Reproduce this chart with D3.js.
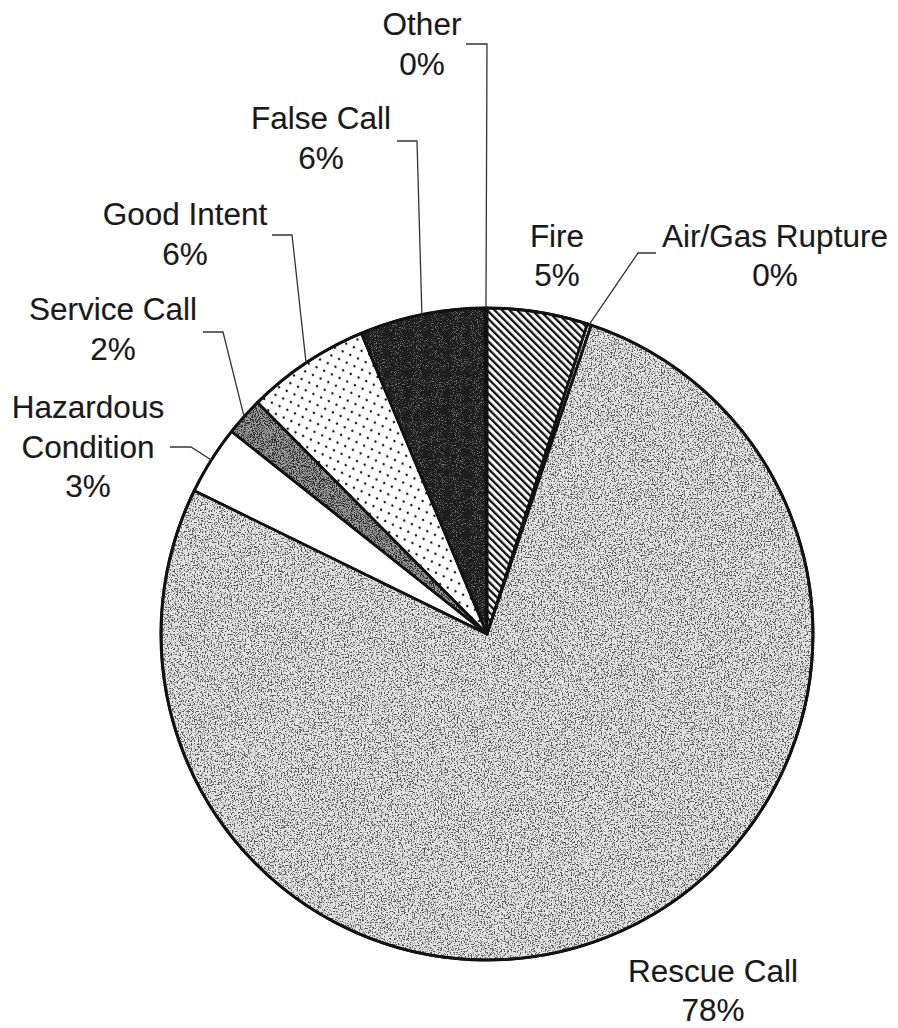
<!DOCTYPE html>
<html>
<head>
<meta charset="utf-8">
<script src="https://cdn.jsdelivr.net/npm/d3@7/dist/d3.min.js"></script>
<style>
  html, body { margin: 0; padding: 0; background: #fff; }
  svg { display: block; }
  text { font-family: "Liberation Sans", Arial, sans-serif; fill: #1a1a1a; stroke: #1a1a1a; stroke-width: 0.15; }
</style>
</head>
<body>
<svg id="chart" width="898" height="1028"></svg>
<script>
// ---- data ----
const categories = ["Fire", "Air/Gas Rupture", "Rescue Call", "Hazardous Condition",
                    "Service Call", "Good Intent", "False Call", "Other"];
const values = [4.98, 0.2, 77.07, 3.42, 1.9, 6.13, 6.2, 0.1];
const percentLabels = ["5%", "0%", "78%", "3%", "2%", "6%", "6%", "0%"];

// ---- layout (positions / styles) ----
const W = 898, H = 1028;
const cx = 487, cy = 634, R = 326;
const fontSize = 31.5;

const labelLayout = {
  "Fire":                {x: 557, y: [247, 286], leader: null},
  "Air/Gas Rupture":     {x: 775, y: [247, 286], leader: [[638, 253], [656, 253]]},
  "Rescue Call":         {x: 713, y: [982, 1021], leader: null},
  "Hazardous Condition": {x: 88,  y: [418, 458, 497], lines: ["Hazardous", "Condition"], leader: [[191, 447], [170, 447]]},
  "Service Call":        {x: 113, y: [320, 360], leader: [[223, 332], [203, 332]]},
  "Good Intent":         {x: 185, y: [225, 265], leader: [[292, 235], [272, 235]]},
  "False Call":          {x: 321, y: [129, 169], leader: [[417, 141], [397, 141]]},
  "Other":               {x: 422, y: [35, 75],   leader: [[487, 44], [466, 44]]}
};

const sliceStyle = {
  "Fire":                {fill: "url(#hatch)", noise: null},
  "Air/Gas Rupture":     {fill: "#e2e2e2", noise: {filter: "speckLight", opacity: 0.6}},
  "Rescue Call":         {fill: "#e2e2e2", noise: {filter: "speckLight", opacity: 0.6}},
  "Hazardous Condition": {fill: "#ffffff", noise: null},
  "Service Call":        {fill: "#9a9a9a", noise: {filter: "speckBlack", opacity: 0.7}},
  "Good Intent":         {fill: "url(#dots)", noise: null},
  "False Call":          {fill: "#1e1e1e", noise: {filter: "speckWhite", opacity: 0.35}},
  "Other":               {fill: "#ffffff", noise: null}
};

const svg = d3.select("#chart");
const defs = svg.append("defs");

// hatch pattern (Fire)
const hatch = defs.append("pattern")
  .attr("id", "hatch").attr("patternUnits", "userSpaceOnUse")
  .attr("width", 5.3).attr("height", 10)
  .attr("patternTransform", "rotate(-45)");
hatch.append("rect").attr("width", 5.3).attr("height", 10).attr("fill", "#fff");
hatch.append("rect").attr("width", 2.3).attr("height", 10).attr("fill", "#111");

// dots pattern (Good Intent)
const dots = defs.append("pattern")
  .attr("id", "dots").attr("patternUnits", "userSpaceOnUse")
  .attr("width", 12).attr("height", 12)
  .attr("patternTransform", "rotate(-20)");
dots.append("rect").attr("width", 12).attr("height", 12).attr("fill", "#fff");
dots.append("circle").attr("cx", 3).attr("cy", 3).attr("r", 1.2).attr("fill", "#111");
dots.append("circle").attr("cx", 9).attr("cy", 9).attr("r", 1.2).attr("fill", "#111");

// speckle filters
function speckFilter(id, rgb, seed, freq, thrMul, thrOff) {
  const f = defs.append("filter").attr("id", id)
    .attr("x", 0).attr("y", 0).attr("width", 1).attr("height", 1)
    .attr("color-interpolation-filters", "sRGB");
  f.append("feTurbulence").attr("type", "fractalNoise")
    .attr("baseFrequency", freq).attr("numOctaves", 2).attr("seed", seed).attr("result", "n");
  f.append("feColorMatrix").attr("in", "n").attr("type", "matrix")
    .attr("values", `0 0 0 0 ${rgb}  0 0 0 0 ${rgb}  0 0 0 0 ${rgb}  ${thrMul} 0 0 0 ${thrOff}`);
}
speckFilter("speckBlack", 0, 4, 0.95, 9, -4.3);
speckFilter("speckLight", 0, 4, 0.7, 9, -4.7);
speckFilter("speckWhite", 1, 9, 0.95, 9, -5.2);

const pie = d3.pie().sort(null).value(d => d.value).startAngle(0).endAngle(2 * Math.PI);
const data = categories.map((c, i) => ({name: c, value: values[i], pct: percentLabels[i]}));
const arcs = pie(data);
const arc = d3.arc().innerRadius(0).outerRadius(R);

const g = svg.append("g").attr("transform", `translate(${cx},${cy})`);

// clip paths
arcs.forEach((a, i) => {
  defs.append("clipPath").attr("id", "clip" + i)
    .append("path").attr("d", arc(a));
});

// slices
g.selectAll("path.slice").data(arcs).join("path")
  .attr("class", "slice")
  .attr("d", arc)
  .attr("fill", d => sliceStyle[d.data.name].fill);

// noise overlays
arcs.forEach((a, i) => {
  const st = sliceStyle[a.data.name];
  if (!st.noise) return;
  g.append("g").attr("clip-path", `url(#clip${i})`)
    .append("rect")
    .attr("x", -R - 2).attr("y", -R - 2).attr("width", 2 * R + 4).attr("height", 2 * R + 4)
    .attr("filter", `url(#${st.noise.filter})`)
    .attr("opacity", st.noise.opacity);
});

// slice borders
g.selectAll("path.border").data(arcs).join("path")
  .attr("class", "border")
  .attr("d", arc)
  .attr("fill", "none")
  .attr("stroke", "#111")
  .attr("stroke-width", 2.6)
  .attr("stroke-linejoin", "round");

g.append("circle").attr("r", R).attr("fill", "none").attr("stroke", "#111").attr("stroke-width", 3);

// leader lines
arcs.forEach(a => {
  const L = labelLayout[a.data.name];
  if (!L.leader) return;
  const mid = (a.startAngle + a.endAngle) / 2;
  const start = [cx + R * Math.sin(mid), cy - R * Math.cos(mid)];
  const pts = [start].concat(L.leader);
  svg.append("path")
    .attr("d", d3.line()(pts))
    .attr("fill", "none")
    .attr("stroke", "#333")
    .attr("stroke-width", 1.3);
});

// labels
arcs.forEach(a => {
  const L = labelLayout[a.data.name];
  const lines = (L.lines || [a.data.name]).concat([a.data.pct]);
  const t = svg.append("text")
    .attr("text-anchor", "middle")
    .attr("font-size", fontSize);
  lines.forEach((ln, k) => {
    t.append("tspan").attr("x", L.x).attr("y", L.y[k]).text(ln);
  });
});
</script>
</body>
</html>
